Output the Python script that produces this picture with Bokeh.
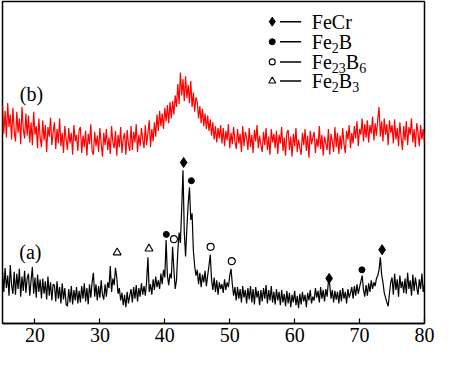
import numpy as np
from bokeh.plotting import figure
from bokeh.models import Range1d, FixedTicker, Label
from bokeh.embed import file_html
from bokeh.resources import INLINE

# ---------------- data (arbitrary intensity units) -------------
two_theta = np.round(np.arange(15.0, 80.0001, 0.2), 1)

# (a) black pattern
intensity_a = [
    55, 33, 58, 37, 50, 29, 61, 40, 31, 54,
    30, 52, 36, 57, 28, 49, 34, 55, 32, 47,
    52, 29, 45, 59, 31, 48, 27, 51, 33, 46,
    26, 47, 31, 44, 25, 49, 29, 43, 24, 41,
    40, 23, 44, 26, 38, 21, 42, 25, 37, 20,
    18, 36, 22, 39, 20, 35, 24, 38, 21, 34,
    22, 39, 26, 42, 23, 37, 20, 41, 27, 43,
    53, 28, 41, 24, 39, 27, 45, 30, 25, 41,
    28, 43, 37, 60, 33, 47, 40, 58, 48, 31,
    37, 24, 32, 19, 30, 17, 33, 21, 29, 36,
    22, 38, 26, 40, 23, 37, 28, 42, 30, 39,
    29, 44, 69, 33, 41, 30, 46, 35, 49, 38,
    45, 36, 52, 41, 56, 48, 87, 50, 40, 52,
    47, 80, 56, 36, 45, 75, 95, 84, 120, 160,
    95, 70, 100, 125, 142, 108, 115, 76, 60, 50,
    56, 41, 53, 38, 51, 43, 55, 39, 50, 60,
    72, 46, 35, 48, 33, 45, 30, 43, 36, 41,
    32, 46, 35, 43, 38, 50, 57, 41, 29, 38,
    24, 38, 26, 36, 22, 39, 27, 35, 21, 37,
    25, 39, 22, 36, 20, 38, 27, 34, 19, 35,
    23, 37, 26, 40, 21, 35, 24, 39, 22, 33,
    20, 36, 24, 33, 19, 35, 22, 31, 18, 34,
    21, 32, 17, 30, 22, 34, 19, 29, 16, 31,
    20, 33, 23, 30, 17, 32, 24, 35, 21, 28,
    24, 37, 27, 34, 22, 38, 26, 35, 23, 36,
    28, 44, 41, 26, 35, 22, 34, 25, 33, 21,
    35, 23, 37, 26, 33, 21, 36, 27, 32, 38,
    26, 39, 29, 41, 31, 38, 44, 50, 35, 28,
    40, 29, 42, 33, 45, 36, 43, 39, 47, 50,
    56, 69, 51, 43, 32, 27, 22, 18, 31, 43,
    48, 30, 52, 35, 46, 28, 50, 37, 44, 32,
    47, 31, 53, 36, 45, 29, 51, 34, 48, 38,
    30, 46, 36, 52, 33, 41,
]

# (b) red pattern
intensity_b = [
    228, 198, 222, 194, 230, 205, 218, 192, 225, 201,
    190, 221, 199, 214, 187, 226, 203, 193, 219, 196,
    217, 189, 210, 186, 221, 197, 206, 183, 214, 194,
    184, 212, 191, 207, 179, 205, 195, 215, 186, 200,
    210, 182, 203, 188, 214, 185, 199, 178, 206, 192,
    181, 204, 188, 199, 176, 207, 190, 197, 180, 202,
    205, 178, 196, 184, 201, 175, 198, 187, 208, 180,
    176, 200, 185, 196, 179, 204, 188, 174, 199, 186,
    203, 181, 194, 177, 206, 189, 183, 201, 175, 197,
    184, 205, 178, 193, 199, 176, 202, 187, 180, 206,
    181, 200, 189, 208, 179, 197, 185, 204, 192, 183,
    207, 186, 199, 212, 184, 203, 190, 210, 195, 218,
    201, 222, 206, 219, 203, 225, 211, 228, 209, 231,
    214, 232, 218, 238, 226, 250, 229, 262, 238, 255,
    232, 258, 235, 249, 230, 253, 226, 241, 221, 236,
    231, 214, 227, 209, 224, 206, 219, 203, 217, 201,
    213, 196, 210, 192, 206, 189, 204, 193, 207, 188,
    204, 185, 201, 191, 208, 183, 199, 187, 205, 190,
    182, 203, 188, 198, 179, 206, 185, 200, 194, 181,
    204, 184, 197, 178, 202, 190, 207, 183, 196, 186,
    179, 200, 186, 204, 181, 195, 176, 203, 189, 198,
    183, 201, 177, 197, 188, 205, 180, 194, 175, 199,
    202, 181, 195, 174, 198, 185, 204, 179, 192, 183,
    176, 199, 186, 203, 180, 196, 173, 201, 187, 194,
    200, 178, 193, 184, 206, 182, 197, 175, 195, 188,
    181, 203, 176, 198, 190, 179, 205, 184, 199, 177,
    196, 182, 204, 187, 178, 201, 192, 207, 183, 199,
    188, 206, 193, 211, 185, 203, 197, 214, 190, 208,
    194, 212, 189, 207, 198, 216, 191, 209, 196, 213,
    226, 195, 211, 190, 214, 197, 208, 186, 212, 199,
    207, 188, 213, 192, 204, 185, 210, 194, 181, 206,
    191, 211, 186, 205, 197, 214, 189, 203, 184, 209,
    200, 185, 207, 192, 203, 188,
]

# phase marks (peak position, height of mark)
fecr_x = [42.90, 65.31, 73.47]
fecr_y = [168, 47, 77]
fe2b_x = [40.23, 44.09, 70.36]
fe2b_y = [93, 149, 56]
fe23b6_x = [41.42, 47.06, 50.32]
fe23b6_y = [88, 80, 65]
fe2b3_x = [32.66, 37.56]
fe2b3_y = [74, 78]

tick_values = [20, 30, 40, 50, 60, 70, 80]
tick_labels = ["20", "30", "40", "50", "60", "70", "80"]

# ---------------- figure ----------------
FONT = "Liberation Serif"
p = figure(width=434, height=371, output_backend="svg", toolbar_location=None,
           x_range=Range1d(15, 80), y_range=Range1d(0, 336),
           min_border_left=2, min_border_right=10, min_border_top=1,
           min_border_bottom=48)
p.background_fill_color = "white"
p.border_fill_color = "white"
p.outline_line_color = "black"
p.outline_line_width = 1.5
p.grid.visible = False
p.yaxis.visible = False

ax = p.xaxis[0]
ax.ticker = FixedTicker(ticks=tick_values)
ax.major_label_overrides = {v: s for v, s in zip(tick_values, tick_labels)}
ax.major_tick_in = 5
ax.major_tick_out = 0
ax.minor_tick_line_color = None
ax.axis_line_color = "black"
ax.axis_line_width = 1.5
ax.major_tick_line_width = 1.2
ax.major_label_text_font = FONT
ax.major_label_text_font_size = "20px"
ax.major_label_text_color = "black"
ax.major_label_standoff = 4

# traces
p.line(two_theta, intensity_b, line_color="#ff0000", line_width=1.2)
p.line(two_theta, intensity_a, line_color="black", line_width=1.2)

# markers on peaks
p.scatter(fecr_x, fecr_y, marker="diamond", size=10, color="black")
p.scatter(fe2b_x, fe2b_y, marker="circle", size=6, color="black")
p.scatter(fe23b6_x, fe23b6_y, marker="circle", size=7, fill_color="white",
          line_color="black", line_width=1.2)
p.scatter(fe2b3_x, fe2b3_y, marker="triangle", size=8, fill_color="white",
          line_color="black", line_width=1.1)

# legend drawn by hand
rows = [315, 294, 273, 253]
mx, lx0, lx1, tx = 56.55, 57.74, 61.0, 62.64
p.scatter([mx], [rows[0]], marker="diamond", size=9, color="black")
p.scatter([mx], [rows[1]], marker="circle", size=6, color="black")
p.scatter([mx], [rows[2]], marker="circle", size=6, fill_color="white",
          line_color="black", line_width=1.1)
p.scatter([mx], [rows[3]], marker="triangle", size=7, fill_color="white",
          line_color="black", line_width=1.1)
p.segment(x0=[lx0] * 4, y0=rows, x1=[lx1] * 4, y1=rows, line_color="black",
          line_width=1.5)


def lab(x, y, text, size="20px", xo=0, style="normal", align="left"):
    p.add_layout(Label(x=x, y=y, text=text, x_offset=xo, text_font=FONT,
                       text_font_size=size, text_font_style=style,
                       text_baseline="middle", text_align=align,
                       text_color="black"))


SUB = "14px"
sub_dy = 6
# FeCr
lab(tx, rows[0], "FeCr")
# Fe2B
lab(tx, rows[1], "Fe")
lab(tx, rows[1] - sub_dy, "2", SUB, 20)
lab(tx, rows[1], "B", xo=27)
# Fe23B6
lab(tx, rows[2], "Fe")
lab(tx, rows[2] - sub_dy, "23", SUB, 20)
lab(tx, rows[2], "B", xo=34)
lab(tx, rows[2] - sub_dy, "6", SUB, 47.5)
# Fe2B3
lab(tx, rows[3], "Fe")
lab(tx, rows[3] - sub_dy, "2", SUB, 20)
lab(tx, rows[3], "B", xo=27)
lab(tx, rows[3] - sub_dy, "3", SUB, 40.5)

# curve labels
lab(19.3, 75, "(a)", align="center")
lab(19.45, 240, "(b)", align="center")

# axis title
lab(44.6, -36.5, "2θ/", style="italic")
lab(44.6, -36.5, "(°)", xo=26)

open("out.html", "w").write(file_html(p, INLINE))
